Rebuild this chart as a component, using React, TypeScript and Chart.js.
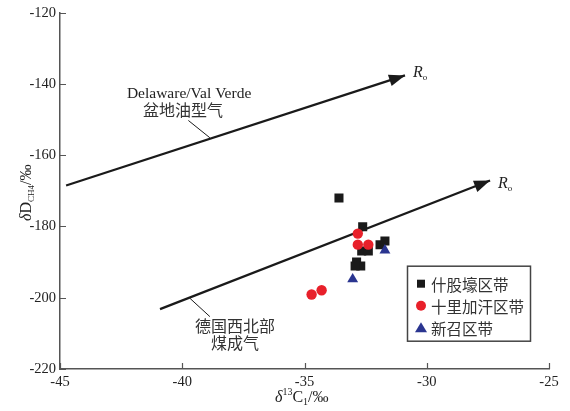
import React, { useEffect, useRef } from 'react';
import { Chart, registerables } from 'chart.js';
Chart.register(...registerables);

// ---- data ----
const xTickValues = [-45, -40, -35, -30, -25];
const yTickValues = [-220, -200, -180, -160, -140, -120];

const shiguLabel = '什股壕区带';
const shiguX = [-33.59, -32.62, -32.66, -32.39, -31.91, -31.71, -32.87, -32.7, -32.93];
const shiguY = [-172.0, -180.1, -186.9, -186.9, -185.1, -184.1, -190.0, -191.1, -191.1];

const shiliLabel = '十里加汗区带';
const shiliX = [-32.82, -32.82, -32.39, -34.3, -34.71];
const shiliY = [-182.0, -185.1, -185.1, -197.9, -199.1];

const xinzhaoLabel = '新召区带';
const xinzhaoX = [-31.71, -33.03];
const xinzhaoY = [-186.7, -194.8];

// trend arrows (Ro increasing)
const oilLineX = [-44.75, -30.89];
const oilLineY = [-168.5, -137.6];
const coalLineX = [-40.91, -27.41];
const coalLineY = [-203.2, -167.1];

// leader lines from labels to trend lines
const oilLeaderX = [-39.75, -38.87];
const oilLeaderY = [-150.25, -155.1];
const coalLeaderX = [-39.68, -38.87];
const coalLeaderY = [-200.2, -205.3];

// annotation texts (anchored at data coordinates)
const annotationTexts = ['Delaware/Val Verde', '盆地油型气', '德国西北部', '煤成气'];
const annotationX = [-39.72, -39.97, -37.84, -37.84];
const annotationY = [-142.7, -147.2, -208.0, -212.7];
const roX = [-30.56, -27.09];
const roY = [-136.8, -167.9];

const SERIF = '"Liberation Serif", "DejaVu Serif", serif';
const CJK = '"Noto Sans CJK SC", "Noto Sans", sans-serif';
const INK = '#222';
const CJK_INK = '#333';

const zip = (xs: number[], ys: number[]) => xs.map((x, i) => ({ x, y: ys[i] }));

function drawRich(ctx: CanvasRenderingContext2D, parts: { t: string; f: string; dy?: number }[], x: number, y: number) {
  let cx = x;
  for (const p of parts) {
    ctx.font = p.f;
    ctx.fillText(p.t, cx, y + (p.dy || 0));
    cx += ctx.measureText(p.t).width;
  }
}

const overlay = {
  id: 'overlay',
  afterDatasetsDraw(chart: any) {
    const { ctx, scales } = chart;
    const xs = scales.x, ys = scales.y;
    ctx.save();
    for (const [lx, ly] of [[oilLineX, oilLineY], [coalLineX, coalLineY]]) {
      const x0 = xs.getPixelForValue(lx[0]), y0 = ys.getPixelForValue(ly[0]);
      const x1 = xs.getPixelForValue(lx[1]), y1 = ys.getPixelForValue(ly[1]);
      const a = Math.atan2(y1 - y0, x1 - x0);
      const L = 16, W = 6;
      const bx = x1 - L * Math.cos(a), by = y1 - L * Math.sin(a);
      ctx.fillStyle = '#1a1a1a';
      ctx.beginPath();
      ctx.moveTo(x1, y1);
      ctx.lineTo(bx + W * Math.sin(a), by - W * Math.cos(a));
      ctx.lineTo(bx - W * Math.sin(a), by + W * Math.cos(a));
      ctx.closePath();
      ctx.fill();
    }
    ctx.restore();
  },
  afterDraw(chart: any) {
    const { ctx, chartArea, scales } = chart;
    const xs = scales.x, ys = scales.y;
    ctx.save();
    // inward ticks
    ctx.strokeStyle = '#555';
    ctx.lineWidth = 1.2;
    ctx.beginPath();
    for (const v of xTickValues) {
      const px = Math.round(xs.getPixelForValue(v)) + 0.5;
      ctx.moveTo(px, chartArea.bottom);
      ctx.lineTo(px, chartArea.bottom - 6);
    }
    for (const v of yTickValues) {
      const py = Math.round(ys.getPixelForValue(v)) + 0.5;
      ctx.moveTo(chartArea.left, py);
      ctx.lineTo(chartArea.left + 6, py);
    }
    ctx.stroke();

    ctx.fillStyle = INK;
    ctx.textBaseline = 'alphabetic';
    ctx.textAlign = 'left';
    // x axis title
    drawRich(ctx, [
      { t: 'δ', f: `italic 16px ${SERIF}` },
      { t: '13', f: `10px ${SERIF}`, dy: -7 },
      { t: 'C', f: `16px ${SERIF}` },
      { t: '1', f: `10px ${SERIF}`, dy: 3 },
      { t: '/‰', f: `16px ${SERIF}` },
    ], 275, 402);
    // y axis title
    ctx.save();
    ctx.translate(31, 221);
    ctx.rotate(-Math.PI / 2);
    drawRich(ctx, [
      { t: 'δ', f: `italic 16px ${SERIF}` },
      { t: 'D', f: `16px ${SERIF}` },
      { t: 'CH4', f: `9px ${SERIF}`, dy: 3 },
      { t: '/‰', f: `16px ${SERIF}` },
    ], 0, 0);
    ctx.restore();

    // annotation texts
    ctx.textAlign = 'center';
    ctx.textBaseline = 'middle';
    annotationTexts.forEach((t, i) => {
      const isLatin = /^[\x00-\x7F]+$/.test(t);
      ctx.font = isLatin ? `15.5px ${SERIF}` : `16px ${CJK}`;
      ctx.fillStyle = isLatin ? INK : CJK_INK;
      ctx.fillText(t, xs.getPixelForValue(annotationX[i]), ys.getPixelForValue(annotationY[i]));
    });
    // Ro labels
    ctx.fillStyle = INK;
    ctx.textAlign = 'left';
    roX.forEach((v, i) => {
      const px = xs.getPixelForValue(v), py = ys.getPixelForValue(roY[i]);
      ctx.textBaseline = 'middle';
      ctx.font = `italic 16px ${SERIF}`;
      ctx.fillText('R', px, py);
      const w = ctx.measureText('R').width;
      ctx.font = `9px ${SERIF}`;
      ctx.fillText('o', px + w, py + 5);
    });

    // legend
    const lx = chartArea.right - 142, ly = chartArea.top + 253, lw = 123, lh = 75;
    ctx.strokeStyle = '#444';
    ctx.lineWidth = 1.5;
    ctx.strokeRect(lx + 0.5, ly + 0.5, lw, lh);
    const items = chart.data.datasets.filter((d: any) => d.legendItem);
    items.forEach((d: any, i: number) => {
      const cy = ly + 18 + i * 22;
      const mx = lx + 14;
      ctx.fillStyle = d.backgroundColor;
      ctx.beginPath();
      if (d.pointStyle === 'rect') {
        ctx.rect(mx - 4, cy - 4, 8, 8);
      } else if (d.pointStyle === 'circle') {
        ctx.arc(mx, cy, 5, 0, Math.PI * 2);
      } else {
        ctx.moveTo(mx, cy - 5.5);
        ctx.lineTo(mx + 6, cy + 4.5);
        ctx.lineTo(mx - 6, cy + 4.5);
        ctx.closePath();
      }
      ctx.fill();
      ctx.fillStyle = CJK_INK;
      ctx.font = `15.5px ${CJK}`;
      ctx.textBaseline = 'middle';
      ctx.fillText(d.label, lx + 24, cy + 1);
    });
    ctx.restore();
  },
};

export default function App() {
  const ref = useRef<HTMLCanvasElement | null>(null);
  useEffect(() => {
    if (!ref.current) return;
    const lineDs = (label: string, xs: number[], ys: number[], w: number) => ({
      label, data: zip(xs, ys), showLine: true, borderColor: '#1a1a1a', borderWidth: w,
      pointRadius: 0, order: 10, legendItem: false, borderCapStyle: 'butt',
    });
    const chart = new Chart(ref.current, {
      type: 'scatter',
      data: {
        datasets: [
          { label: shiguLabel, data: zip(shiguX, shiguY), pointStyle: 'rect', pointRadius: 6.4, backgroundColor: '#1a1a1a', borderWidth: 0, order: 1, legendItem: true } as any,
          { label: shiliLabel, data: zip(shiliX, shiliY), pointStyle: 'circle', pointRadius: 5.2, backgroundColor: '#e8202a', borderWidth: 0, order: 0, legendItem: true } as any,
          { label: xinzhaoLabel, data: zip(xinzhaoX, xinzhaoY), pointStyle: 'triangle', pointRadius: 6.3, backgroundColor: '#2a3590', borderWidth: 0, order: 0, legendItem: true } as any,
          lineDs('oil', oilLineX, oilLineY, 2.2) as any,
          lineDs('coal', coalLineX, coalLineY, 2.2) as any,
          lineDs('oilLeader', oilLeaderX, oilLeaderY, 1) as any,
          lineDs('coalLeader', coalLeaderX, coalLeaderY, 1) as any,
        ],
      },
      options: {
        animation: false,
        responsive: true,
        maintainAspectRatio: false,
        layout: { padding: { top: 12, right: 21, left: 0, bottom: 0 } },
        plugins: { legend: { display: false }, tooltip: { enabled: false } },
        scales: {
          x: {
            type: 'linear', min: -45, max: -25,
            afterBuildTicks: (s: any) => { s.ticks = xTickValues.map((v) => ({ value: v })); },
            afterFit: (s: any) => { s.height = 42; },
            grid: { display: false, drawTicks: false },
            border: { display: true, color: '#555', width: 1.5 },
            ticks: { padding: 4, color: INK, font: { family: SERIF, size: 14.5 }, maxRotation: 0, autoSkip: false },
          },
          y: {
            type: 'linear', min: -220, max: -120,
            afterBuildTicks: (s: any) => { s.ticks = yTickValues.map((v) => ({ value: v })); },
            afterFit: (s: any) => { s.width = 60; },
            grid: { display: false, drawTicks: false },
            border: { display: true, color: '#555', width: 1.5 },
            ticks: { padding: 4, color: INK, font: { family: SERIF, size: 14.5 }, autoSkip: false },
          },
        },
      } as any,
      plugins: [overlay],
    });
    return () => chart.destroy();
  }, []);
  return (
    <div style={{ position: 'absolute', left: 0, top: 0, width: 570, height: 411 }}>
      <canvas ref={ref} />
    </div>
  );
}
